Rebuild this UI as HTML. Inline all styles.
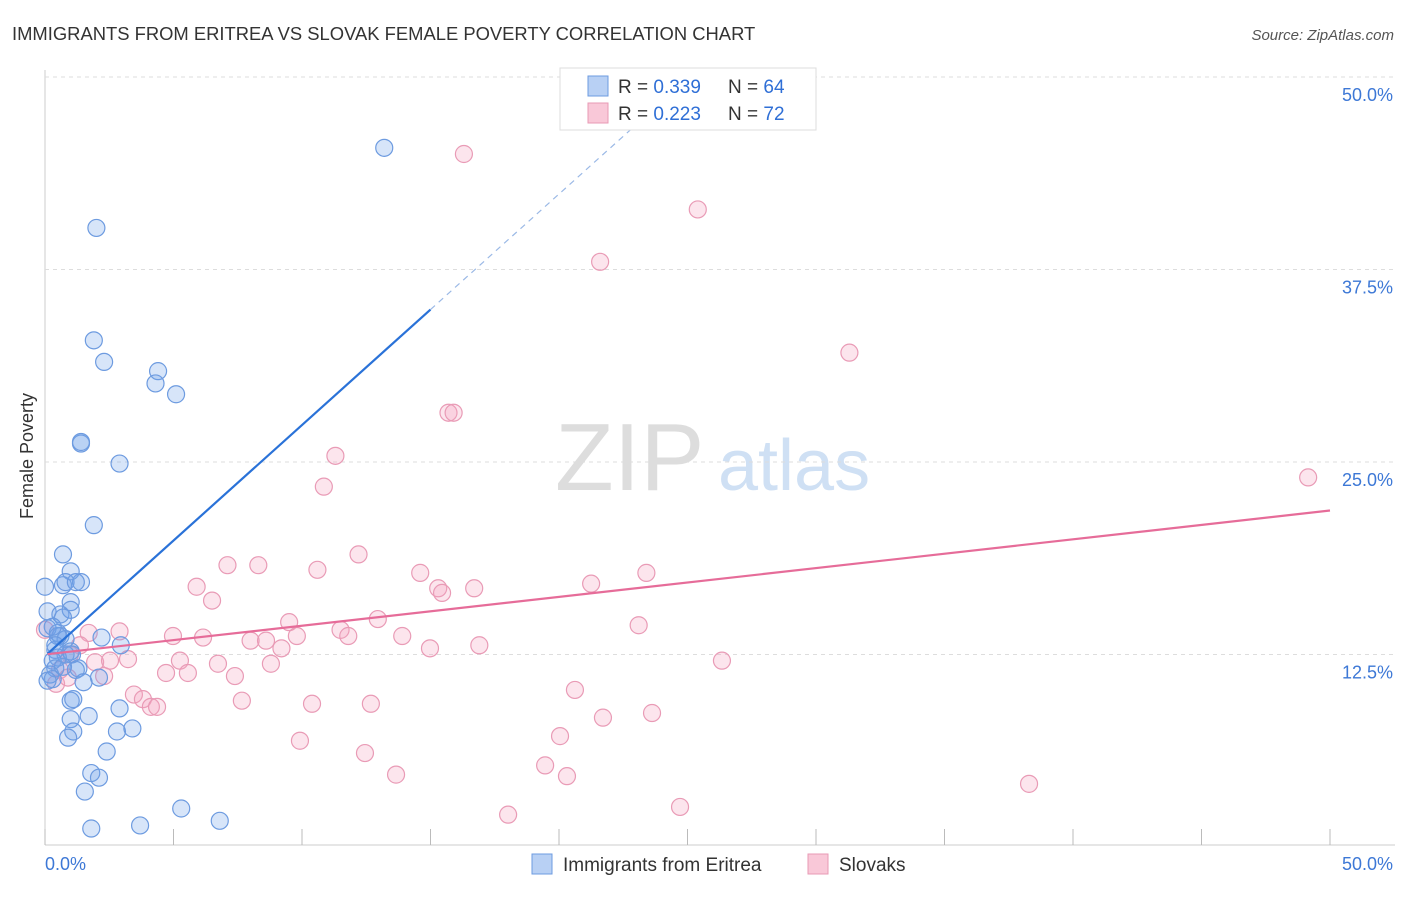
<!DOCTYPE html>
<html><head><meta charset="utf-8"><style>
body{margin:0;background:#fff;font-family:"Liberation Sans",sans-serif}
svg text{font-family:"Liberation Sans",sans-serif}
</style></head><body>
<svg id="c" width="1406" height="892" xmlns="http://www.w3.org/2000/svg">
<text x="12" y="40" font-size="18.4" fill="#333">IMMIGRANTS FROM ERITREA VS SLOVAK FEMALE POVERTY CORRELATION CHART</text>
<text x="1394" y="40" font-size="15" fill="#555" font-style="italic" text-anchor="end">Source: ZipAtlas.com</text>
<text x="33" y="456" font-size="18" fill="#333" text-anchor="middle" transform="rotate(-90 33 456)">Female Poverty</text>
<g><text x="555" y="490" font-size="96" fill="#ddd" font-family="Liberation Serif,serif">ZIP</text><text x="718" y="490" font-size="72" fill="#cfe0f4">atlas</text></g>
<g id="grid"></g><g id="pts"></g><g id="lines"></g>
<g>
<rect x="560" y="68" width="256" height="62" fill="#fff" stroke="#ddd"/>
<rect x="588" y="76" width="20" height="20" fill="#b8d0f4" stroke="#6d9be0"/>
<rect x="588" y="103" width="20" height="20" fill="#f9c8d8" stroke="#e89ab5"/>
<text x="618" y="93" font-size="19" fill="#333">R = <tspan fill="#2f6fd6">0.339</tspan></text>
<text x="728" y="93" font-size="19" fill="#333">N = <tspan fill="#2f6fd6">64</tspan></text>
<text x="618" y="120" font-size="19" fill="#333">R = <tspan fill="#2f6fd6">0.223</tspan></text>
<text x="728" y="120" font-size="19" fill="#333">N = <tspan fill="#2f6fd6">72</tspan></text>
</g>
<g>
<rect x="532" y="854" width="20" height="20" fill="#b8d0f4" stroke="#6d9be0"/>
<text x="563" y="871" font-size="19" fill="#333">Immigrants from Eritrea</text>
<rect x="808" y="854" width="20" height="20" fill="#f9c8d8" stroke="#e89ab5"/>
<text x="839" y="871" font-size="19" fill="#333">Slovaks</text>
</g>
</svg>
<script>
const xTicks=[0,5,10,15,20,25,30,35,40,45,50];
const yTicks=[12.5,25,37.5,50];
const blueX=[13.2,2.0,1.9,2.3,4.4,4.3,5.1,1.4,1.4,2.9,1.9,0.7,1.0,0.7,0.8,1.4,1.2,0,1.0,0.1,0.6,1.0,0.7,0.1,0.5,0.6,0.8,2.2,2.95,0.4,1.0,0.8,0.5,0.3,1.05,0.4,1.3,1.2,0.2,2.1,0.3,1.5,0.1,1.0,1.1,1.7,1.0,1.1,0.9,2.8,3.4,2.4,1.8,2.1,1.55,5.3,6.8,3.7,1.8,0.5,0.4,0.7,2.9,0.3];
const blueY=[45.4,40.2,32.9,31.5,30.9,30.1,29.4,26.2,26.3,24.9,20.9,19.0,17.9,17.0,17.2,17.2,17.2,16.9,15.9,15.3,15.1,15.4,14.9,14.2,13.9,13.7,13.5,13.6,13.1,12.8,12.7,12.5,12.3,12.1,12.5,11.6,11.6,11.5,11.2,11.0,10.9,10.7,10.8,9.5,9.6,8.5,8.3,7.5,7.1,7.5,7.7,6.2,4.8,4.5,3.6,2.5,1.7,1.4,1.2,13.7,13.1,11.7,9.0,14.3];
const pinkX=[16.3,25.4,21.6,31.3,15.7,15.9,11.3,10.85,49.15,12.2,7.1,8.3,10.6,14.6,23.4,21.25,5.9,15.3,15.45,16.7,6.5,12.95,9.5,23.1,1.7,2.9,4.98,6.15,9.8,11.5,11.8,13.9,8.0,8.6,9.2,14.98,16.9,3.23,5.25,1.95,2.53,6.73,8.79,26.34,4.71,5.56,7.39,2.3,0.43,20.62,3.46,3.81,4.12,4.36,7.66,10.39,12.68,21.71,23.62,9.92,20.04,12.45,19.46,13.66,20.31,38.29,24.71,18.02,0,1.36,0.97,0.58,0.89];
const pinkY=[45.0,41.4,38.0,32.1,28.2,28.2,25.4,23.4,24.0,19.0,18.3,18.3,18.0,17.8,17.8,17.1,16.9,16.8,16.5,16.8,16.0,14.8,14.6,14.4,13.9,14.0,13.7,13.6,13.7,14.1,13.7,13.7,13.4,13.4,12.9,12.9,13.1,12.2,12.1,12.0,12.1,11.9,11.9,12.1,11.3,11.3,11.1,11.1,10.6,10.2,9.9,9.6,9.1,9.1,9.5,9.3,9.3,8.4,8.7,6.9,7.2,6.1,5.3,4.7,4.6,4.1,2.6,2.1,14.1,13.1,12.5,11.5,11.0];
const blueTrend=[12.4,1.5];   // intercept, slope (y% per x%)
const pinkTrend=[12.5,0.187];
const X=v=>45+v/50*1285, Y=v=>847-v/12.5*192.5;
const NS='http://www.w3.org/2000/svg';
function mk(t,a,p){const e=document.createElementNS(NS,t);for(const k in a)e.setAttribute(k,a[k]);p.appendChild(e);return e;}
const g=document.getElementById('grid');
mk('line',{x1:45,y1:70,x2:45,y2:845,stroke:'#ccc'},g);
mk('line',{x1:45,y1:845,x2:1395,y2:845,stroke:'#ccc'},g);
xTicks.forEach(t=>{const l=mk('line',{x1:X(t),y1:829,x2:X(t),y2:845,stroke:'#bbb'},g);

});
yTicks.forEach(t=>{const l=mk('line',{x1:45,y1:Y(t),x2:1395,y2:Y(t),stroke:'#ddd','stroke-dasharray':'4,4'},g);


const tx=mk('text',{x:1393,y:Y(t)+24,'font-size':18,fill:'#3d78d6','text-anchor':'end'},g);tx.textContent=t.toFixed(1)+'%';

});
[['0.0%',45,'start'],['50.0%',1393,'end']].forEach(a=>{const tx=mk('text',{x:a[1],y:870,'font-size':18,fill:'#3d78d6','text-anchor':a[2]},g);tx.textContent=a[0];

});
const p=document.getElementById('pts');
pinkX.forEach((v,i)=>{const c=mk('circle',{cx:X(v),cy:Y(pinkY[i]),r:8.5,fill:'rgba(244,160,190,0.28)',stroke:'#e99bb6','stroke-width':1.2},p);

});
blueX.forEach((v,i)=>{const c=mk('circle',{cx:X(v),cy:Y(blueY[i]),r:8.5,fill:'rgba(110,160,235,0.28)',stroke:'#6d9be0','stroke-width':1.2},p);

});
const L=document.getElementById('lines');
const bl=mk('line',{x1:X(0.1),y1:Y(blueTrend[0]+blueTrend[1]*0.1),x2:X(15),y2:Y(blueTrend[0]+blueTrend[1]*15),stroke:'#2a72d8','stroke-width':2.2},L);


const bd=mk('line',{x1:X(15),y1:Y(blueTrend[0]+blueTrend[1]*15),x2:X(23.2),y2:Y(blueTrend[0]+blueTrend[1]*23.2),stroke:'#9bb9e6','stroke-width':1.2,'stroke-dasharray':'6,5'},L);


const pl=mk('line',{x1:X(0.1),y1:Y(pinkTrend[0]+pinkTrend[1]*0.1),x2:X(50),y2:Y(pinkTrend[0]+pinkTrend[1]*50),stroke:'#e66c99','stroke-width':2.2},L);


</script>
</body></html>
